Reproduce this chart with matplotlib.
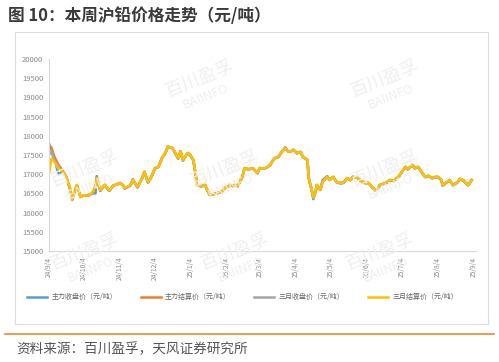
import matplotlib
matplotlib.use("Agg")
import matplotlib.pyplot as plt
from matplotlib.lines import Line2D
from matplotlib.patches import Rectangle
import pandas as pd

plt.rcParams['font.family'] = ['Noto Sans CJK SC', 'DejaVu Sans']

title = "图 10：本周沪铅价格走势（元/吨）"
source = "资料来源：百川盈孚，天风证券研究所"
series_names = ["主力收盘价（元/吨）", "主力结算价（元/吨）", "三月收盘价（元/吨）", "三月结算价（元/吨）"]
series_colors = ["#5B9BD5", "#ED7D31", "#A5A5A5", "#FFC000"]
tick_dates = ["2024-09-04", "2024-10-04", "2024-11-04", "2024-12-04", "2025-01-04", "2025-02-04",
              "2025-03-04", "2025-04-04", "2025-05-04", "2025-06-04", "2025-07-04", "2025-08-04", "2025-09-04"]
tick_labels = ["24/9/4", "24/10/4", "24/11/4", "24/12/4", "25/1/4", "25/2/4", "25/3/4",
               "25/4/4", "25/5/4", "25/6/4", "25/7/4", "25/8/4", "25/9/4"]
y_ticks = [15000, 15500, 16000, 16500, 17000, 17500, 18000, 18500, 19000, 19500, 20000]

dates = ["2024-09-04", "2024-09-06", "2024-09-08", "2024-09-12", "2024-09-16", "2024-09-19", "2024-09-22",
         "2024-09-24", "2024-09-26", "2024-09-28", "2024-10-01", "2024-10-04", "2024-10-08", "2024-10-11",
         "2024-10-14", "2024-10-15", "2024-10-18", "2024-10-20", "2024-10-22", "2024-10-25", "2024-10-26",
         "2024-10-29", "2024-10-31", "2024-11-02", "2024-11-04", "2024-11-07", "2024-11-08", "2024-11-11",
         "2024-11-13", "2024-11-15", "2024-11-19", "2024-11-21", "2024-11-23", "2024-11-25", "2024-11-28",
         "2024-12-01", "2024-12-04", "2024-12-07", "2024-12-10", "2024-12-13", "2024-12-15", "2024-12-17",
         "2024-12-19", "2024-12-21", "2024-12-24", "2024-12-26", "2024-12-28", "2025-01-01", "2025-01-03",
         "2025-01-06", "2025-01-08", "2025-01-09", "2025-01-12", "2025-01-13", "2025-01-16", "2025-01-18",
         "2025-01-20", "2025-01-24", "2025-01-27", "2025-01-31", "2025-02-02", "2025-02-05", "2025-02-06",
         "2025-02-09", "2025-02-11", "2025-02-13", "2025-02-17", "2025-02-19", "2025-02-22", "2025-02-24",
         "2025-02-26", "2025-03-02", "2025-03-04", "2025-03-07", "2025-03-09", "2025-03-11", "2025-03-13",
         "2025-03-15", "2025-03-17", "2025-03-20", "2025-03-23", "2025-03-26", "2025-03-28", "2025-03-30",
         "2025-04-02", "2025-04-05", "2025-04-08", "2025-04-10", "2025-04-14", "2025-04-15", "2025-04-18",
         "2025-04-19", "2025-04-21", "2025-04-22", "2025-04-25", "2025-04-27", "2025-05-01", "2025-05-03",
         "2025-05-06", "2025-05-09", "2025-05-12", "2025-05-15", "2025-05-18", "2025-05-21", "2025-05-23",
         "2025-05-27", "2025-05-29", "2025-06-01", "2025-06-03", "2025-06-05", "2025-06-07", "2025-06-09",
         "2025-06-11", "2025-06-14", "2025-06-15", "2025-06-20", "2025-06-24", "2025-06-27", "2025-06-29",
         "2025-07-01", "2025-07-04", "2025-07-07", "2025-07-09", "2025-07-13", "2025-07-15", "2025-07-18",
         "2025-07-21", "2025-07-24", "2025-07-27", "2025-07-30", "2025-08-02", "2025-08-04", "2025-08-07",
         "2025-08-08", "2025-08-12", "2025-08-14", "2025-08-17", "2025-08-21", "2025-08-23", "2025-08-26",
         "2025-08-27", "2025-08-30", "2025-09-02"]

main_close = [17800, 17650, 17500, 17000, 17060, 16900, 16620, 16330, 16550, 16700, 16420, 16450, 16460, 16500,
              16500, 16950, 16560, 16650, 16720, 16580, 16570, 16700, 16720, 16740, 16770, 16690, 16620, 16680,
              16700, 16870, 16650, 16780, 16900, 17060, 16780, 16930, 17150, 17190, 17420, 17550, 17720, 17700,
              17680, 17560, 17400, 17600, 17350, 17550, 17500, 17350, 16980, 16720, 16690, 16680, 16720, 16570,
              16460, 16480, 16510, 16560, 16630, 16680, 16720, 16690, 16720, 16680, 16930, 17160, 17120, 17140,
              17160, 17020, 17160, 17150, 17160, 17190, 17240, 17350, 17420, 17450, 17590, 17700, 17600, 17580,
              17640, 17540, 17580, 17450, 17360, 16900, 16520, 16350, 16550, 16720, 16600, 16850, 16950, 16860,
              16930, 16790, 16760, 16770, 16890, 16840, 16930, 16900, 16840, 16780, 16760, 16770, 16710, 16640,
              16580, 16640, 16710, 16760, 16840, 16820, 16870, 16920, 17050, 17190, 17120, 17240, 17150, 17180,
              17050, 16920, 16950, 16890, 16920, 16920, 16840, 16700, 16790, 16840, 16710, 16790, 16870, 16830,
              16790, 16710, 16840]
main_settle = [17650, 17700, 17500, 17250, 17080, 16920, 16640, 16360, 16560, 16720, 16420, 16440, 16440, 16500,
               16680, 16900, 16590, 16650, 16720, 16600, 16590, 16700, 16720, 16750, 16770, 16700, 16640, 16680,
               16720, 16850, 16670, 16780, 16900, 17060, 16800, 16930, 17160, 17190, 17420, 17550, 17710, 17700,
               17680, 17580, 17420, 17600, 17370, 17550, 17520, 17370, 16980, 16720, 16700, 16690, 16720, 16590,
               16460, 16480, 16510, 16560, 16640, 16680, 16720, 16700, 16720, 16690, 16930, 17160, 17130, 17140,
               17160, 17030, 17160, 17150, 17160, 17200, 17240, 17350, 17420, 17450, 17580, 17680, 17600, 17580,
               17630, 17550, 17580, 17450, 17370, 16900, 16540, 16400, 16550, 16720, 16590, 16800, 16930, 16850,
               16930, 16800, 16770, 16780, 16900, 16850, 16930, 16900, 16850, 16800, 16770, 16780, 16720, 16650,
               16590, 16650, 16720, 16770, 16850, 16830, 16880, 16930, 17060, 17190, 17130, 17240, 17160, 17190,
               17060, 16930, 16960, 16900, 16930, 16930, 16850, 16720, 16800, 16850, 16720, 16800, 16880, 16840,
               16800, 16720, 16850]
march_close = [17500, 17600, 17400, 17200, 17050, 16900, 16630, 16340, 16550, 16710, 16410, 16450, 16450, 16500,
               16690, 16910, 16580, 16650, 16720, 16590, 16580, 16700, 16720, 16740, 16770, 16700, 16630, 16680,
               16710, 16860, 16660, 16780, 16900, 17060, 16790, 16930, 17150, 17190, 17420, 17550, 17710, 17700,
               17680, 17570, 17410, 17600, 17360, 17550, 17510, 17360, 16980, 16720, 16690, 16690, 16720, 16580,
               16460, 16480, 16510, 16560, 16640, 16680, 16720, 16690, 16720, 16690, 16930, 17160, 17130, 17140,
               17160, 17030, 17160, 17150, 17160, 17200, 17240, 17350, 17420, 17450, 17580, 17690, 17600, 17580,
               17630, 17550, 17580, 17450, 17370, 16900, 16530, 16380, 16550, 16720, 16590, 16820, 16940, 16850,
               16930, 16800, 16770, 16780, 16900, 16850, 16930, 16900, 16850, 16790, 16770, 16780, 16720, 16650,
               16590, 16650, 16720, 16770, 16850, 16830, 16880, 16930, 17060, 17190, 17130, 17240, 17160, 17190,
               17060, 16930, 16960, 16900, 16930, 16930, 16850, 16720, 16800, 16850, 16720, 16800, 16880, 16840,
               16800, 16720, 16850]
march_settle = [17000, 17400, 17350, 17150, 17060, 16900, 16640, 16350, 16550, 16720, 16400, 16450, 16450, 16510,
                16700, 16900, 16590, 16650, 16720, 16600, 16590, 16700, 16720, 16750, 16770, 16700, 16640, 16680,
                16720, 16850, 16670, 16780, 16900, 17060, 16800, 16930, 17160, 17190, 17420, 17550, 17710, 17700,
                17680, 17580, 17420, 17600, 17370, 17550, 17520, 17370, 16980, 16720, 16700, 16690, 16720, 16590,
                16460, 16480, 16510, 16560, 16640, 16680, 16720, 16700, 16720, 16690, 16930, 17160, 17130, 17140,
                17160, 17030, 17160, 17150, 17160, 17200, 17240, 17350, 17420, 17450, 17580, 17680, 17600, 17580,
                17630, 17550, 17580, 17450, 17370, 16900, 16540, 16400, 16550, 16720, 16590, 16800, 16930, 16850,
                16930, 16800, 16770, 16780, 16900, 16850, 16930, 16900, 16850, 16800, 16770, 16780, 16720, 16650,
                16590, 16650, 16720, 16770, 16850, 16830, 16880, 16930, 17060, 17190, 17130, 17240, 17160, 17190,
                17060, 16930, 16960, 16900, 16930, 16930, 16850, 16720, 16800, 16850, 16720, 16800, 16880, 16840,
                16800, 16720, 16850]

W, H = 499, 362
fig = plt.figure(figsize=(W / 100, H / 100), dpi=100)
fig.patch.set_facecolor("white")

# title
fig.text(8 / W, 1 - 16 / H, title, fontsize=12, color="#3a3a3a", fontweight="bold",
         ha="left", va="center")

# chart frame
fig.patches.append(Rectangle((15 / W, 1 - 324 / H), 473 / W, 292 / H, transform=fig.transFigure,
                             fill=False, edgecolor="#dcdcdc", linewidth=0.8))

# watermarks
wm_pos = [(200, 85), (385, 85), (85, 175), (225, 175), (385, 175), (85, 258), (235, 258), (380, 258)]
for (wx, wy) in wm_pos:
    fig.text(wx / W, 1 - (wy - 6) / H, "百川盈孚", fontsize=13, color="#efefef", rotation=22,
             ha="center", va="center", zorder=0)
    fig.text((wx + 6) / W, 1 - (wy + 12) / H, "BAIINFO", fontsize=9, color="#efefef", rotation=22,
             ha="center", va="center", zorder=0)

ax = fig.add_axes([49 / W, 1 - 251 / H, (476 - 49) / W, (251 - 59) / H])
ax.patch.set_alpha(0)

x = pd.to_datetime(dates)
for vals, col in zip([main_close, main_settle, march_close, march_settle], series_colors):
    ax.plot(x, vals, color=col, linewidth=1.8, solid_joinstyle="round")

x0 = pd.Timestamp(tick_dates[0])
x1 = pd.Timestamp(tick_dates[-1])
ax.set_xlim(x0, x1 + pd.Timedelta(days=1.7))
ax.set_ylim(15000, 20000)
ax.set_yticks(y_ticks)
ax.set_yticklabels([str(v) for v in y_ticks], fontsize=5.5, color="#8a8a8a")
ax.set_xticks(pd.to_datetime(tick_dates))
ax.set_xticklabels(tick_labels, rotation=90, fontsize=4.8, color="#8a8a8a")
ax.tick_params(axis="both", length=0, pad=4)
for s in ["top", "right"]:
    ax.spines[s].set_visible(False)
ax.spines["left"].set_color("#d9d9d9")
ax.spines["bottom"].set_color("#d9d9d9")
ax.spines["left"].set_linewidth(0.8)
ax.spines["bottom"].set_linewidth(0.8)

# legend
handles = [Line2D([0], [0], color=c, linewidth=1.8) for c in series_colors]
fig.legend(handles, series_names, loc="center left", bbox_to_anchor=(27 / W, 1 - 297 / H), ncol=4,
           frameon=False, fontsize=5, labelcolor="#666666", handlelength=2.9, columnspacing=3.4,
           handletextpad=0.6, borderaxespad=0, borderpad=0)

# orange separator and source
fig.add_artist(Line2D([5 / W, 494 / W], [1 - 334 / H, 1 - 334 / H], color="#F08A2A", linewidth=1.2,
                      transform=fig.transFigure))
fig.text(16 / W, 1 - 349 / H, source, fontsize=9.8, color="#555555", ha="left", va="center")

fig.savefig("out.png", dpi=100, facecolor="white")
